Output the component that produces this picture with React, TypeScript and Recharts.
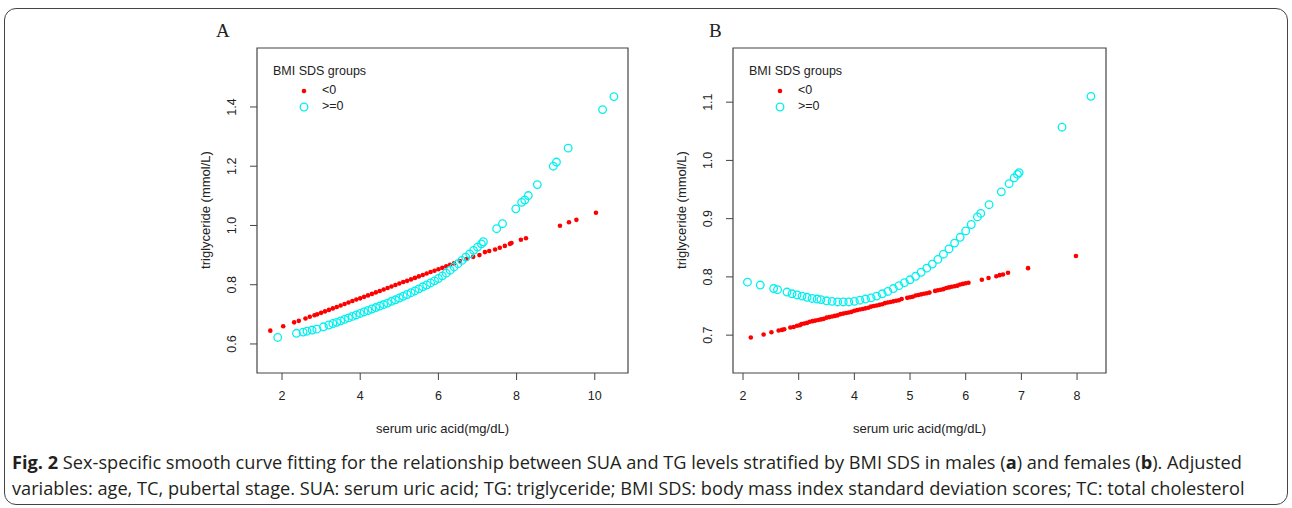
import React from "react";
import { ScatterChart, Scatter, XAxis, YAxis, ReferenceArea } from "recharts";

// Panel A (males): [serum uric acid, fitted triglyceride]
const maleLow: number[][] = [
  [1.7, 0.645], [2.03, 0.66], [2.31, 0.673], [2.43, 0.678], [2.6, 0.686], [2.71, 0.692], [2.83, 0.697],
  [2.9, 0.7], [3.0, 0.705], [3.1, 0.71], [3.2, 0.715], [3.3, 0.72], [3.4, 0.725], [3.5, 0.73],
  [3.6, 0.735], [3.7, 0.74], [3.8, 0.745], [3.9, 0.75], [4.0, 0.754], [4.1, 0.759], [4.2, 0.764],
  [4.3, 0.769], [4.4, 0.774], [4.5, 0.779], [4.6, 0.784], [4.7, 0.789], [4.8, 0.794], [4.9, 0.799],
  [5.0, 0.804], [5.1, 0.809], [5.2, 0.813], [5.3, 0.818], [5.4, 0.823], [5.5, 0.828], [5.6, 0.833],
  [5.7, 0.838], [5.8, 0.843], [5.9, 0.847], [6.0, 0.852], [6.1, 0.857], [6.2, 0.862], [6.3, 0.867],
  [6.4, 0.872], [6.55, 0.88], [6.72, 0.887], [6.89, 0.894], [7.05, 0.9], [7.19, 0.91], [7.3, 0.914],
  [7.45, 0.919], [7.57, 0.925], [7.7, 0.931], [7.83, 0.938], [7.87, 0.941], [8.11, 0.952], [8.24, 0.957],
  [9.11, 0.999], [9.34, 1.011], [9.53, 1.019], [10.03, 1.043],
];
const maleHigh: number[][] = [
  [1.89, 0.622], [2.37, 0.636], [2.54, 0.64], [2.64, 0.643], [2.77, 0.647], [2.89, 0.65], [3.06, 0.658],
  [3.2, 0.664], [3.3, 0.669], [3.4, 0.673], [3.5, 0.678], [3.6, 0.683], [3.7, 0.688], [3.8, 0.693],
  [3.9, 0.698], [4.0, 0.703], [4.1, 0.708], [4.2, 0.713], [4.3, 0.718], [4.4, 0.723], [4.5, 0.728],
  [4.6, 0.733], [4.7, 0.738], [4.8, 0.744], [4.9, 0.749], [5.0, 0.755], [5.1, 0.761], [5.2, 0.767],
  [5.3, 0.773], [5.4, 0.779], [5.5, 0.786], [5.6, 0.793], [5.7, 0.799], [5.8, 0.806], [5.9, 0.813],
  [6.0, 0.821], [6.1, 0.83], [6.2, 0.839], [6.3, 0.849], [6.4, 0.86], [6.5, 0.871], [6.6, 0.882],
  [6.7, 0.893], [6.8, 0.904], [6.9, 0.916], [7.0, 0.927], [7.1, 0.938], [7.15, 0.945],
  [7.49, 0.989], [7.64, 1.006], [7.98, 1.056], [8.13, 1.078], [8.21, 1.086], [8.3, 1.101], [8.53, 1.138],
  [8.94, 1.2], [9.02, 1.214], [9.32, 1.261], [10.2, 1.391], [10.49, 1.435],
];

// Panel B (females)
const femaleLow: number[][] = [
  [2.14, 0.696], [2.37, 0.701], [2.51, 0.705], [2.64, 0.708], [2.7, 0.709], [2.74, 0.71], [2.85, 0.713],
  [2.91, 0.714], [2.97, 0.716], [3.02, 0.717],
  [3.05, 0.719], [3.1, 0.72], [3.15, 0.721], [3.2, 0.723], [3.25, 0.724], [3.3, 0.725], [3.35, 0.726],
  [3.4, 0.727], [3.45, 0.728], [3.5, 0.73], [3.55, 0.731], [3.6, 0.732], [3.65, 0.733], [3.7, 0.734],
  [3.75, 0.736], [3.8, 0.737], [3.85, 0.738], [3.9, 0.739], [3.95, 0.74], [4.0, 0.742], [4.05, 0.743],
  [4.1, 0.744], [4.15, 0.745], [4.2, 0.746], [4.25, 0.747], [4.3, 0.749], [4.35, 0.75], [4.4, 0.751],
  [4.45, 0.752], [4.5, 0.753], [4.55, 0.755], [4.6, 0.756], [4.65, 0.757], [4.7, 0.758], [4.75, 0.759],
  [4.8, 0.76], [4.85, 0.762], [4.95, 0.764], [5.0, 0.765], [5.05, 0.766], [5.1, 0.768],
  [5.15, 0.769], [5.2, 0.77], [5.25, 0.771], [5.3, 0.772], [5.35, 0.773], [5.45, 0.776],
  [5.5, 0.777], [5.55, 0.778], [5.6, 0.779], [5.65, 0.781], [5.7, 0.782], [5.75, 0.783], [5.8, 0.784],
  [5.85, 0.785], [5.9, 0.787], [5.95, 0.788], [6.0, 0.789], [6.05, 0.79],
  [6.29, 0.795], [6.41, 0.798], [6.55, 0.801], [6.61, 0.803], [6.67, 0.804], [6.76, 0.807],
  [7.12, 0.815], [7.98, 0.836],
];
const femaleHigh: number[][] = [
  [2.08, 0.791], [2.31, 0.786], [2.55, 0.78], [2.62, 0.778], [2.79, 0.774], [2.88, 0.771], [2.97, 0.769],
  [3.06, 0.767], [3.15, 0.765], [3.24, 0.763], [3.33, 0.762],
  [3.4, 0.761], [3.5, 0.759], [3.6, 0.758], [3.7, 0.757], [3.8, 0.757], [3.9, 0.757], [4.0, 0.758],
  [4.1, 0.76], [4.2, 0.762], [4.3, 0.764], [4.4, 0.767], [4.5, 0.771], [4.6, 0.775], [4.7, 0.78],
  [4.8, 0.785], [4.9, 0.79], [5.0, 0.795], [5.1, 0.801], [5.2, 0.808], [5.3, 0.815], [5.4, 0.822],
  [5.5, 0.83], [5.6, 0.839], [5.7, 0.848], [5.8, 0.858], [5.9, 0.868], [6.0, 0.879], [6.1, 0.89],
  [6.21, 0.903], [6.27, 0.909], [6.42, 0.924], [6.64, 0.946], [6.78, 0.96], [6.87, 0.97],
  [6.93, 0.976], [6.96, 0.979], [7.73, 1.057], [8.25, 1.11],
];

const xTicksA = [2, 4, 6, 8, 10];
const yTicksA = [0.6, 0.8, 1.0, 1.2, 1.4];
const xTicksB = [2, 3, 4, 5, 6, 7, 8];
const yTicksB = [0.7, 0.8, 0.9, 1.0, 1.1];
const groupLabels = ["<0", ">=0"];

const LOW = "#ff0000";
const HIGH = "#00f0f0";
const SANS = "'Liberation Sans', Arial, sans-serif";

const toPoints = (rows: number[][]) => rows.map(([x, y]) => ({ x, y }));

const Dot = (p: any) => <circle cx={p.cx} cy={p.cy} r={2.3} fill={LOW} />;
const Ring = (p: any) => (
  <circle cx={p.cx} cy={p.cy} r={3.8} fill="none" stroke={HIGH} strokeWidth={1.3} />
);

const YTick = (p: any) => (
  <text
    x={p.x - 18}
    y={p.y}
    transform={`rotate(-90, ${p.x - 18}, ${p.y})`}
    textAnchor="middle"
    dominantBaseline="central"
    fontSize={12.5}
    fontFamily={SANS}
    fill="#222"
  >
    {p.payload.value.toFixed(1)}
  </text>
);

type PanelProps = {
  left: number;
  letter: string;
  letterX: number;
  low: number[][];
  high: number[][];
  xDomain: [number, number];
  yDomain: [number, number];
  xTicks: number[];
  yTicks: number[];
  margin: { top: number; right: number; bottom: number; left: number };
};

function Panel({ left, letter, letterX, low, high, xDomain, yDomain, xTicks, yTicks, margin }: PanelProps) {
  const plotLeft = left + margin.left + 50;
  const plotRight = left + 460 - margin.right;
  const mid = (plotLeft + plotRight) / 2;
  const text = { position: "absolute" as const, fontFamily: SANS, color: "#222", whiteSpace: "nowrap" as const };
  return (
    <>
      <div style={{ position: "absolute", left, top: 20 }}>
        <ScatterChart width={460} height={400} margin={margin}>
          <XAxis
            type="number"
            dataKey="x"
            domain={xDomain}
            ticks={xTicks}
            allowDataOverflow
            axisLine={false}
            tickSize={7}
            tickMargin={11}
            tickLine={{ stroke: "#444" }}
            tick={{ fontSize: 12.5, fontFamily: SANS, fill: "#222" }}
            height={30}
          />
          <YAxis
            type="number"
            dataKey="y"
            domain={yDomain}
            ticks={yTicks}
            allowDataOverflow
            axisLine={false}
            tickSize={7}
            tickMargin={0}
            tickLine={{ stroke: "#444" }}
            tick={<YTick />}
            width={50}
          />
          <ReferenceArea
            x1={xDomain[0]}
            x2={xDomain[1]}
            y1={yDomain[0]}
            y2={yDomain[1]}
            fill="none"
            stroke="#444"
            strokeWidth={1.2}
            ifOverflow="visible"
          />
          <Scatter data={toPoints(low)} shape={Dot} isAnimationActive={false} />
          <Scatter data={toPoints(high)} shape={Ring} isAnimationActive={false} />
        </ScatterChart>
      </div>
      <div style={{ ...text, left: letterX, top: 20, fontFamily: "'Liberation Serif', serif", fontSize: 19 }}>
        {letter}
      </div>
      <div style={{ ...text, left: plotLeft + 16, top: 64, fontSize: 12.5 }}>BMI SDS groups</div>
      <svg style={{ position: "absolute", left: plotLeft + 40, top: 84 }} width={20} height={30}>
        <circle cx={7} cy={7} r={2.3} fill={LOW} />
        <circle cx={7} cy={23} r={3.8} fill="none" stroke={HIGH} strokeWidth={1.3} />
      </svg>
      <div style={{ ...text, left: plotLeft + 65, top: 83, fontSize: 12.5 }}>{groupLabels[0]}</div>
      <div style={{ ...text, left: plotLeft + 65, top: 99, fontSize: 12.5 }}>{groupLabels[1]}</div>
      <div style={{ ...text, left: mid, top: 421, fontSize: 13, transform: "translateX(-50%)" }}>
        serum uric acid(mg/dL)
      </div>
      <div
        style={{
          ...text,
          left: plotLeft - 52,
          top: 210,
          fontSize: 13,
          transform: "translate(-50%, -50%) rotate(-90deg)",
        }}
      >
        triglyceride (mmol/L)
      </div>
    </>
  );
}

export default function App() {
  return (
    <div style={{ position: "absolute", left: 0, top: 0, width: 1292, height: 508, background: "#fff", overflow: "hidden" }}>
      <div
        style={{
          position: "absolute",
          left: 4,
          top: 8,
          width: 1284,
          height: 497,
          border: "1.2px solid #444",
          borderRadius: 12,
          boxSizing: "border-box",
        }}
      />
      <Panel
        left={190}
        letter="A"
        letterX={216}
        low={maleLow}
        high={maleHigh}
        xDomain={[1.36, 10.85]}
        yDomain={[0.502, 1.599]}
        xTicks={xTicksA}
        yTicks={yTicksA}
        margin={{ top: 28, right: 22, bottom: 17, left: 17 }}
      />
      <Panel
        left={660}
        letter="B"
        letterX={709}
        low={femaleLow}
        high={femaleHigh}
        xDomain={[1.82, 8.52]}
        yDomain={[0.635, 1.193]}
        xTicks={xTicksB}
        yTicks={yTicksB}
        margin={{ top: 28, right: 14, bottom: 17, left: 23 }}
      />
      <div
        style={{
          position: "absolute",
          left: 12,
          top: 449,
          width: 1275,
          fontFamily: "'Open Sans', sans-serif",
          fontSize: 18.2,
          lineHeight: "26px",
          color: "#231f20",
          whiteSpace: "nowrap",
        }}
      >
        <div>
          <b>Fig. 2</b> Sex-specific smooth curve fitting for the relationship between SUA and TG levels stratified by
          BMI SDS in males (<b>a</b>) and females (<b>b</b>). Adjusted
        </div>
        <div>
          variables: age, TC, pubertal stage. SUA: serum uric acid; TG: triglyceride; BMI SDS: body mass index
          standard deviation scores; TC: total cholesterol
        </div>
      </div>
    </div>
  );
}
